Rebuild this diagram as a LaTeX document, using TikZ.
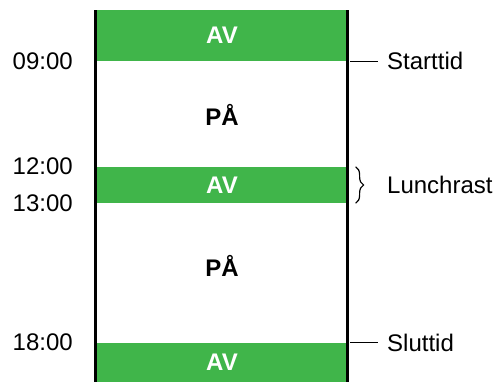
\documentclass[tikz,border=0pt]{standalone}
\usepackage{fontspec}
\setmainfont{Liberation Sans}
\usetikzlibrary{positioning,calc,decorations.pathreplacing}
\definecolor{avgreen}{HTML}{40B54A}
\newcommand{\diafont}{\fontsize{18}{22}\selectfont}
\tikzset{
  avbar/.style={fill=avgreen, minimum width=189pt, inner sep=0pt,
                text=white, font=\diafont\bfseries},
  pabox/.style={inner sep=0pt, font=\diafont\bfseries},
  timelbl/.style={inner sep=0pt, font=\diafont},
  notelbl/.style={inner sep=0pt, font=\diafont},
  rail/.style={line width=1.6pt, color=black},
  tick/.style={line width=0.9pt, color=black}}

\begin{document}
\begin{tikzpicture}[x=0.75pt, y=-0.75pt]
    \useasboundingbox (0,0) rectangle (496,382);
    % off / on bands
    \node[avbar, minimum height=38.25pt] (av1) at (222,35.5) {AV};
    \node[avbar, minimum height=27pt] (av2) at (222,185) {AV};
    \node[avbar, minimum height=29.25pt] (av3) at (222,362.5) {AV};
    \node[pabox] (pa1) at (222,115) {PÅ};
    \node[pabox] (pa2) at (222,266) {PÅ};
    % side rails
    \coordinate (railLtop) at (95.5,10);
    \coordinate (railLbot) at (95.5,382);
    \coordinate (railRtop) at (347.5,10);
    \coordinate (railRbot) at (347.5,382);
    \draw[rail] (railLtop) -- (railLbot);
    \draw[rail] (railRtop) -- (railRbot);
    % times
    \node[timelbl, left=17pt of av1.south west] (t0900) {09:00};
    \node[timelbl, left=17pt of av2.north west] (t1200) {12:00};
    \node[timelbl, left=17pt of av2.south west] (t1300) {13:00};
    \node[timelbl, left=17pt of av3.north west] (t1800) {18:00};
    % notes
    \node[notelbl, right=29pt of av1.south east] (start) {Starttid};
    \node[notelbl, right=29pt of av2.east] (lunch) {Lunchrast};
    \node[notelbl, right=29pt of av3.north east] (slut) {Sluttid};
    \draw[tick] ([xshift=1.5pt]av1.south east) -- ([xshift=-6.5pt]start.west);
    \draw[tick] ([xshift=1.5pt]av3.north east) -- ([xshift=-6.5pt]slut.west);
    \draw[tick, decorate, decoration={brace, amplitude=6pt}]
      ([xshift=5.5pt]av2.north east) -- ([xshift=5.5pt]av2.south east);
\end{tikzpicture}
\end{document}
